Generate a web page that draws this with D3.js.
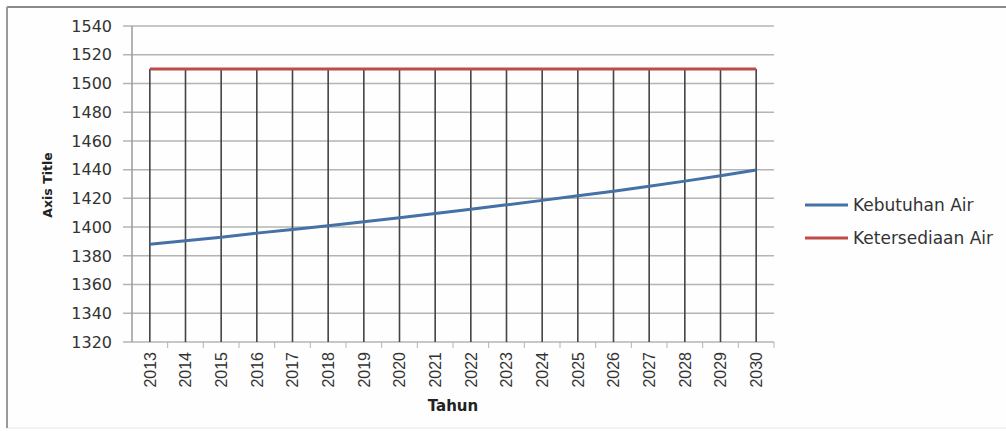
<!DOCTYPE html>
<html>
<head>
<meta charset="utf-8">
<script src="https://cdn.jsdelivr.net/npm/d3@7"></script>
<style>
  body { margin: 0; background: #fff; }
  svg { display: block; }
  .ytick { font-family: "DejaVu Sans", sans-serif; font-size: 16px; fill: #333; }
  .xtick { font-family: "Liberation Sans", Arial, sans-serif; font-size: 16px; fill: #333; }
  .axisTitle { font-family: "DejaVu Sans", sans-serif; font-weight: bold; fill: #222; }
  .legendText { font-family: "DejaVu Sans", sans-serif; font-size: 17px; fill: #333; }
</style>
</head>
<body>
<svg width="1006" height="433"></svg>
<script>
// data
var years = ["2013", "2014", "2015", "2016", "2017", "2018", "2019", "2020", "2021",
             "2022", "2023", "2024", "2025", "2026", "2027", "2028", "2029", "2030"];
var kebutuhan = [1388, 1390.5, 1393, 1395.8, 1398.4, 1401, 1403.7, 1406.5, 1409.5,
                 1412.5, 1415.5, 1418.6, 1421.8, 1425, 1428.5, 1432, 1435.8, 1439.7];
var ketersediaan = [1510, 1510, 1510, 1510, 1510, 1510, 1510, 1510, 1510,
                    1510, 1510, 1510, 1510, 1510, 1510, 1510, 1510, 1510];
var yTicks = [1320, 1340, 1360, 1380, 1400, 1420, 1440, 1460, 1480, 1500, 1520, 1540];
var seriesName = ["Kebutuhan Air", "Ketersediaan Air"];
var seriesColor = ["#4471a6", "#be4b48"];

var svg = d3.select("svg");

// outer chart frame
svg.append("rect")
    .attr("x", 7).attr("y", 7).attr("width", 1010).attr("height", 421)
    .attr("fill", "#fefefe")
    .attr("stroke", "#e6e6e6");
svg.append("line").attr("x1", 7).attr("x2", 1006).attr("y1", 7).attr("y2", 7)
    .attr("stroke", "#8a8a8a").attr("stroke-width", 2);
svg.append("line").attr("x1", 7).attr("x2", 7).attr("y1", 7).attr("y2", 428)
    .attr("stroke", "#9a9a9a").attr("stroke-width", 2);

var plot = {left: 132, right: 774, top: 26, bottom: 342};

var x = d3.scaleBand()
    .domain(years)
    .range([plot.left, plot.right]);

var y = d3.scaleLinear()
    .domain([1320, 1540])
    .range([plot.bottom, plot.top]);

// horizontal gridlines (with tick marks left of the axis)
svg.append("g")
    .selectAll("line")
    .data(yTicks)
    .enter().append("line")
    .attr("x1", plot.left - 9)
    .attr("x2", plot.right)
    .attr("y1", function (d) { return y(d); })
    .attr("y2", function (d) { return y(d); })
    .attr("stroke", "#b4b4b4")
    .attr("stroke-width", 1.5);

// y axis line
svg.append("line")
    .attr("x1", plot.left).attr("x2", plot.left)
    .attr("y1", plot.top).attr("y2", plot.bottom)
    .attr("stroke", "#9a9a9a").attr("stroke-width", 1.5);

// x axis ticks at category boundaries
svg.append("g")
    .selectAll("line")
    .data(years)
    .enter().append("line")
    .attr("x1", function (d) { return x(d) + x.bandwidth(); })
    .attr("x2", function (d) { return x(d) + x.bandwidth(); })
    .attr("y1", plot.bottom)
    .attr("y2", plot.bottom + 6)
    .attr("stroke", "#b4b4b4");

// drop lines from the highest point down to the axis
svg.append("g")
    .selectAll("line")
    .data(years)
    .enter().append("line")
    .attr("x1", function (d) { return x(d) + x.bandwidth() / 2; })
    .attr("x2", function (d) { return x(d) + x.bandwidth() / 2; })
    .attr("y1", function (d, i) { return y(Math.max(kebutuhan[i], ketersediaan[i])); })
    .attr("y2", plot.bottom)
    .attr("stroke", "#444")
    .attr("stroke-width", 1.6);

// y tick labels
svg.append("g")
    .selectAll("text")
    .data(yTicks)
    .enter().append("text")
    .attr("class", "ytick")
    .attr("x", 112)
    .attr("y", function (d) { return y(d); })
    .attr("dy", "0.36em")
    .attr("text-anchor", "end")
    .text(function (d) { return d; });

// x tick labels (rotated)
svg.append("g")
    .selectAll("text")
    .data(years)
    .enter().append("text")
    .attr("class", "xtick")
    .attr("transform", function (d) {
        return "translate(" + (x(d) + x.bandwidth() / 2) + "," + (plot.bottom + 10) + ") rotate(-90)";
    })
    .attr("dy", "0.36em")
    .attr("text-anchor", "end")
    .text(function (d) { return d; });

// series lines
var line = d3.line()
    .x(function (d, i) { return x(years[i]) + x.bandwidth() / 2; })
    .y(function (d) { return y(d); });

[kebutuhan, ketersediaan].forEach(function (values, k) {
    svg.append("path")
        .datum(values)
        .attr("fill", "none")
        .attr("stroke", seriesColor[k])
        .attr("stroke-width", 3)
        .attr("stroke-linejoin", "round")
        .attr("d", line);
});

// axis titles
svg.append("text")
    .attr("class", "axisTitle")
    .attr("transform", "translate(52,185) rotate(-90)")
    .attr("text-anchor", "middle")
    .style("font-size", "12.5px")
    .text("Axis Title");

svg.append("text")
    .attr("class", "axisTitle")
    .attr("x", 453)
    .attr("y", 411)
    .attr("text-anchor", "middle")
    .style("font-size", "15px")
    .text("Tahun");

// legend
var legend = svg.append("g")
    .selectAll("g")
    .data(seriesName)
    .enter().append("g")
    .attr("transform", function (d, i) { return "translate(805," + (205 + i * 33) + ")"; });

legend.append("line")
    .attr("x1", 0).attr("x2", 43)
    .attr("stroke", function (d, i) { return seriesColor[i]; })
    .attr("stroke-width", 3);

legend.append("text")
    .attr("class", "legendText")
    .attr("x", 48)
    .attr("dy", "0.36em")
    .text(function (d) { return d; });
</script>
</body>
</html>
